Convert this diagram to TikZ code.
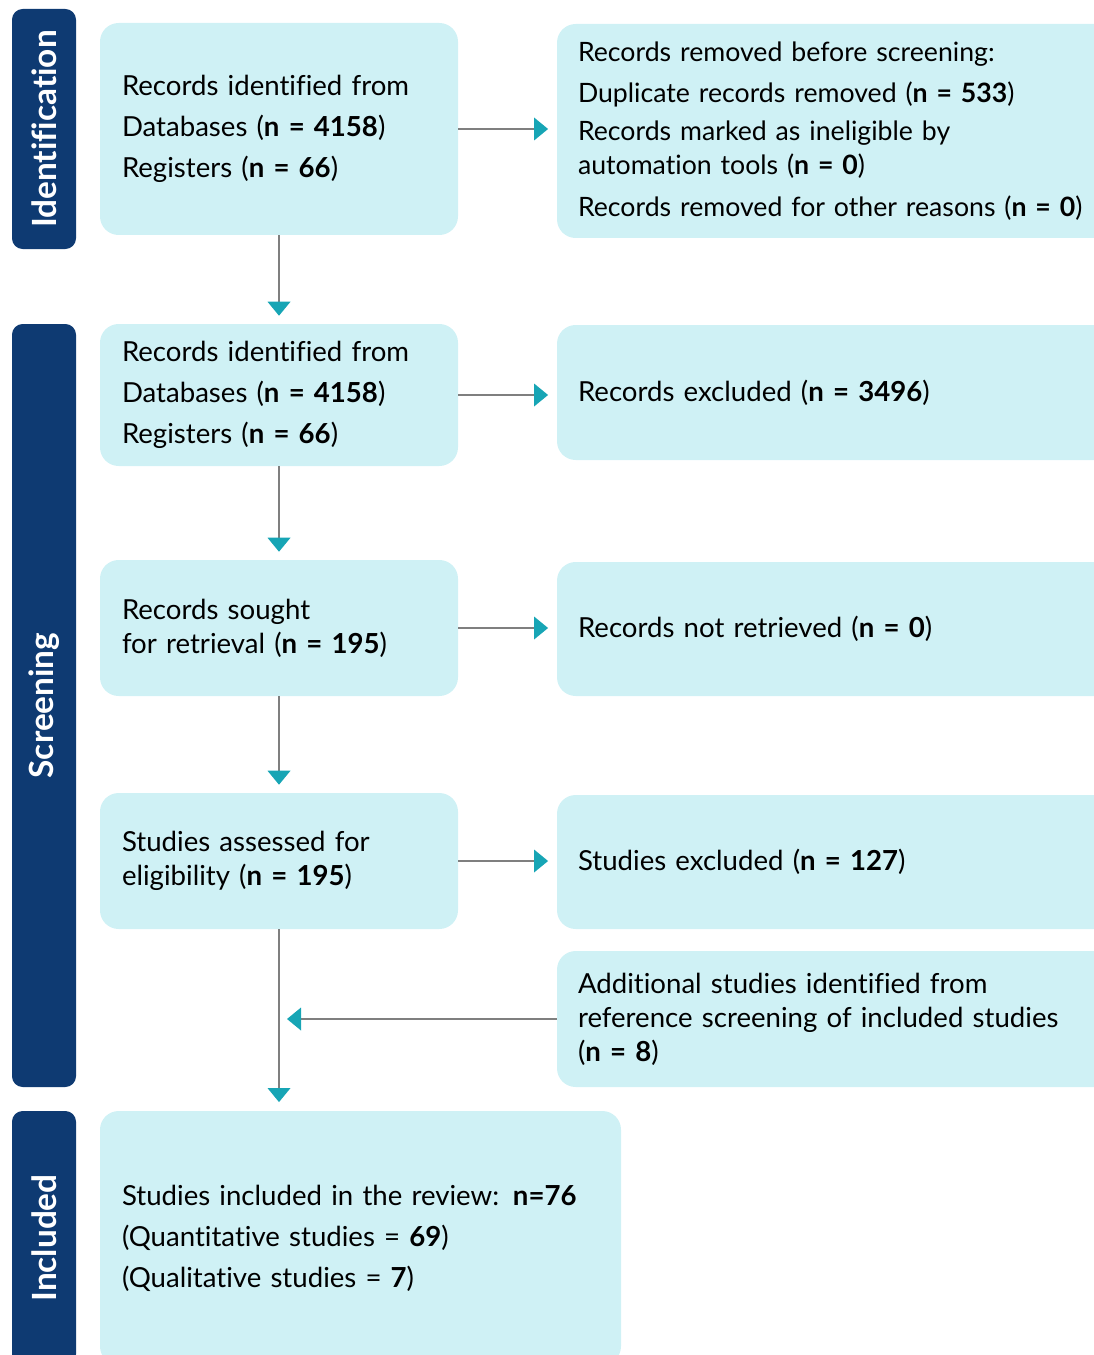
\documentclass[tikz,border=0pt]{standalone}
\usepackage{fontspec}
\setmainfont{Lato}[Ligatures=NoCommon]
\usetikzlibrary{arrows.meta}
\definecolor{boxfill}{HTML}{CFF1F5}
\definecolor{navy}{HTML}{0E3A72}
\definecolor{arrowteal}{HTML}{17A5B5}
\definecolor{linegray}{HTML}{7F7F7F}
\def\pxu{0.75pt}
\newcommand\boxfont[1]{\fontsize{#1}{25.5pt}\selectfont\spaceskip=0.85\fontdimen2\font plus 0.1em minus 0.05em\relax}
\begin{document}
\begin{tikzpicture}[x=0.75pt,y=-0.75pt,
  box/.style={fill=boxfill, draw=none, rounded corners=14pt, inner sep=0pt, align=left,
    font=\boxfont{20.7pt}},
  rbox/.style={box, minimum width=620*\pxu, text width=578*\pxu},
  side/.style={fill=navy, rounded corners=8pt, inner sep=0pt, rotate=90, text=white,
    minimum height=64*\pxu, font=\fontsize{25pt}{30pt}\selectfont\bfseries},
  arr/.style={draw=linegray, line width=1.1pt,
    -{Triangle[width=17pt,length=10.5pt,fill=arrowteal,color=arrowteal]}},
]
\path[use as bounding box] (0,0) rectangle (1094,1355);
\clip (0,0) rectangle (1094,1355);

% side bars
\node[side, minimum width=240*\pxu] (sid) at (44,129) {Identification};
\node[side, minimum width=763*\pxu] (sscr) at (44,705.5) {Screening};
\node[side, minimum width=254*\pxu] (sinc) at (44,1238) {Included};

% left column
\node[box, minimum width=358*\pxu, minimum height=212*\pxu, text width=314*\pxu] (b1) at (279,129)
  {Records identified from\\[5.25pt]Databases (\textbf{n = 4158})\\[5.25pt]Registers (\textbf{n = 66})};
\node[box, minimum width=358*\pxu, minimum height=142*\pxu, text width=314*\pxu] (b2) at (279,395)
  {Records identified from\\[5.25pt]Databases (\textbf{n = 4158})\\[5.25pt]Registers (\textbf{n = 66})};
\node[box, minimum width=358*\pxu, minimum height=136*\pxu, text width=314*\pxu] (b3) at (279,628)
  {Records sought\\for retrieval (\textbf{n = 195})};
\node[box, minimum width=358*\pxu, minimum height=136*\pxu, text width=314*\pxu] (b4) at (279,861)
  {Studies assessed for\\eligibility (\textbf{n = 195})};
\node[box, minimum width=521*\pxu, minimum height=254*\pxu, text width=477*\pxu] (inc) at (360.5,1238)
  {Studies included in the review: \textbf{n=76}\\[5.25pt](Quantitative studies = \textbf{69})\\[5.25pt](Qualitative studies = \textbf{7})};

% right column (extends past the right edge, clipped)
\node[rbox, minimum height=214*\pxu, font=\boxfont{20pt}] (r1) at (867,131)
  {Records removed before screening:\\[5pt]Duplicate records removed (\textbf{n = 533})\\[3.5pt]Records marked as ineligible by\\automation tools (\textbf{n = 0})\\[5.5pt]Records removed for other reasons (\textbf{n = 0})};
\node[rbox, minimum height=135*\pxu] (r2) at (867,392.5)
  {Records excluded (\textbf{n = 3496})};
\node[rbox, minimum height=134*\pxu] (r3) at (867,629)
  {Records not retrieved (\textbf{n = 0})};
\node[rbox, minimum height=134*\pxu] (r4) at (867,862)
  {Studies excluded (\textbf{n = 127})};
\node[rbox, minimum height=136*\pxu] (r5) at (867,1019)
  {Additional studies identified from\\reference screening of included studies\\(\textbf{n = 8})};

% connectors
\draw[arr, shorten >=6pt] (b1.south) -- (b2.north);
\draw[arr, shorten >=6pt] (b2.south) -- (b3.north);
\draw[arr, shorten >=6pt] (b3.south) -- (b4.north);
\draw[arr, shorten >=6.5pt] (b4.south) -- (b4.south |- inc.north);
\draw[arr, shorten >=6.5pt] (b1.east) -- (b1.east -| r1.west);
\draw[arr, shorten >=6.5pt] (b2.east) -- (b2.east -| r2.west);
\draw[arr, shorten >=6.5pt] (b3.east) -- (b3.east -| r3.west);
\draw[arr, shorten >=6.5pt] (b4.east) -- (b4.east -| r4.west);
\draw[arr, shorten >=6pt] (r5.west) -- (b4.south |- r5.west);
\end{tikzpicture}
\end{document}
